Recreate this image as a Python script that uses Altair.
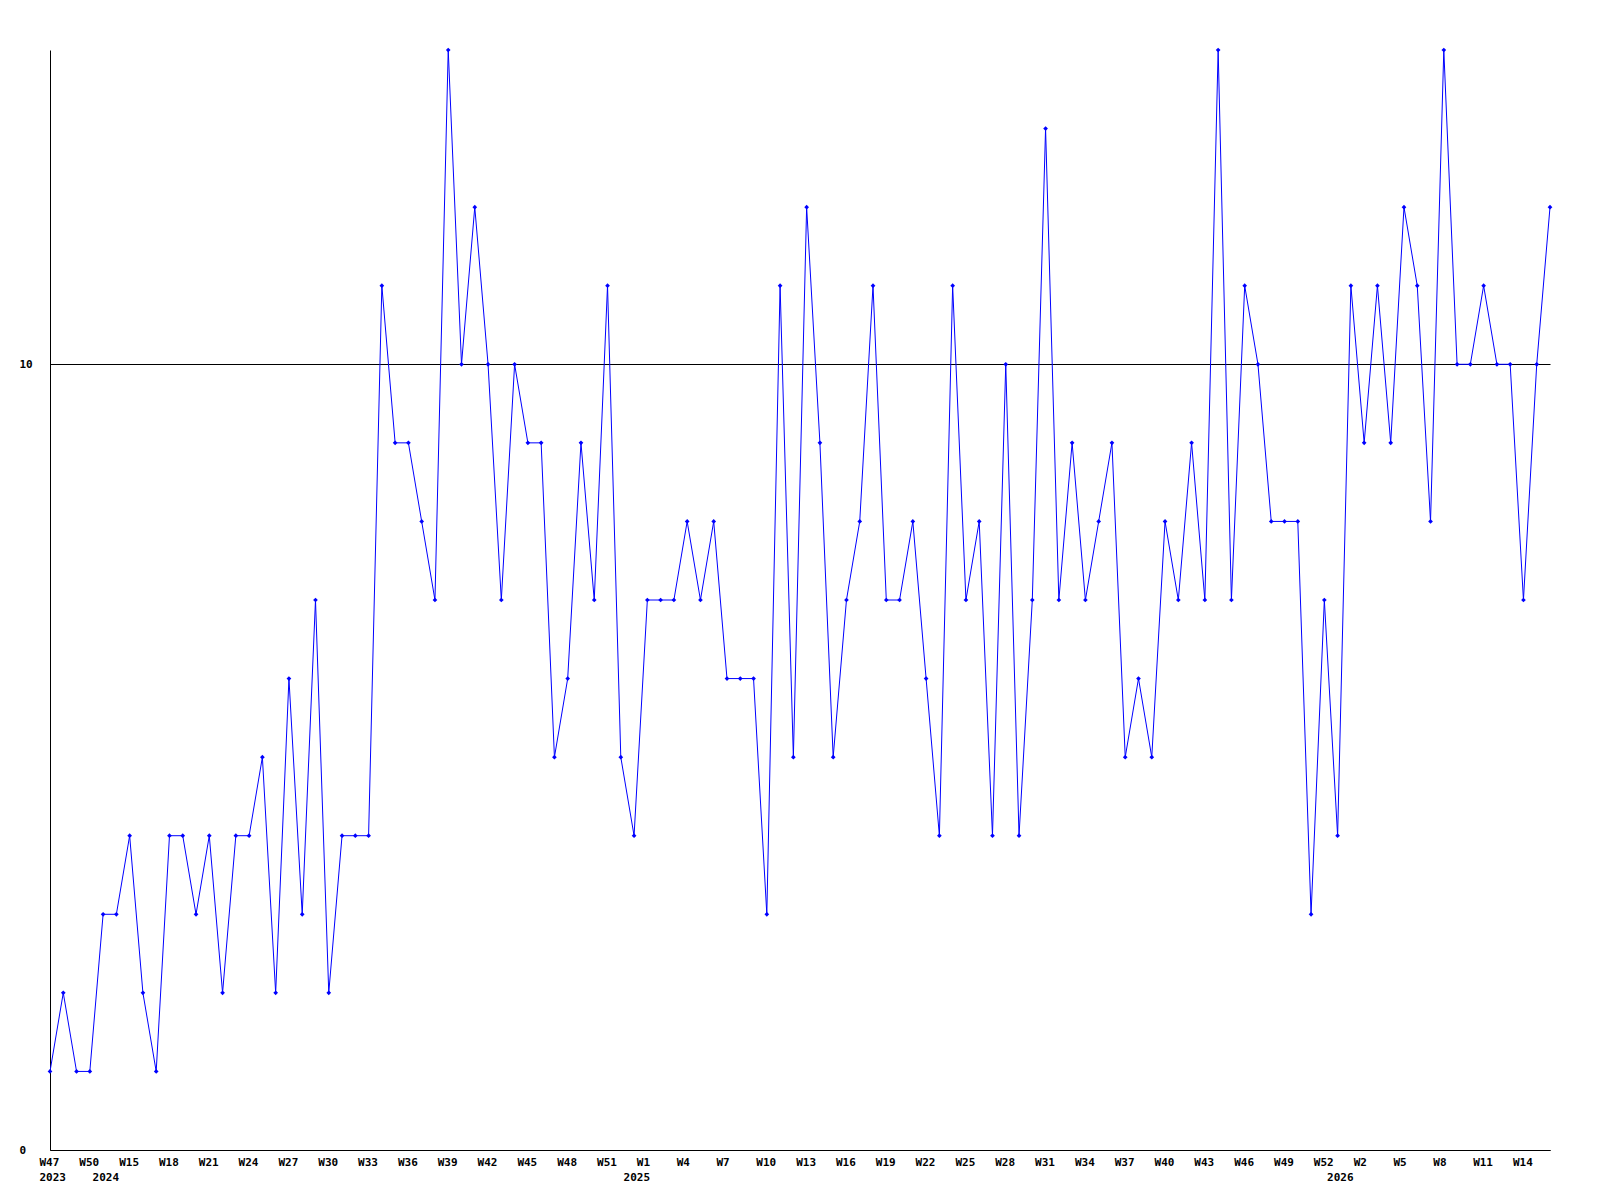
import altair as alt
import pandas as pd

# Week numbers per year segment (categories along the x axis)
weeks_2023 = [47, 48, 49, 50]
weeks_2024 = list(range(13, 53))
weeks_2025 = list(range(0, 53))
weeks_2026 = list(range(0, 17))

values = [
    1, 2, 1, 1, 3, 3, 4, 2, 1, 4,
    4, 3, 4, 2, 4, 4, 5, 2, 6, 3,
    7, 2, 4, 4, 4, 11, 9, 9, 8, 7,
    14, 10, 12, 10, 7, 10, 9, 9, 5, 6,
    9, 7, 11, 5, 4, 7, 7, 7, 8, 7,
    8, 6, 6, 6, 3, 11, 5, 12, 9, 5,
    7, 8, 11, 7, 7, 8, 6, 4, 11, 7,
    8, 4, 10, 4, 7, 13, 7, 9, 7, 8,
    9, 5, 6, 5, 8, 7, 9, 7, 14, 7,
    11, 10, 8, 8, 8, 3, 7, 4, 11, 9,
    11, 9, 12, 11, 8, 14, 10, 10, 11, 10,
    10, 7, 10, 12,
]

weeks = []
years = []
for yr, wk in ((2023, weeks_2023), (2024, weeks_2024), (2025, weeks_2025), (2026, weeks_2026)):
    for w in wk:
        weeks.append(f"W{w}")
        years.append(yr)

n = len(values)
df = pd.DataFrame({"idx": list(range(n)), "value": values, "week": weeks, "year": years})

# label text per index: week every 3rd point, year on second line at first point of each year
year_start = {0}
for i in range(1, n):
    if years[i] != years[i - 1]:
        year_start.add(i)
shown = set(range(0, n, 3))
tick_vals = sorted(shown | year_start)

def lab(i):
    w = weeks[i] if i in shown else ""
    y = str(years[i]) if i in year_start else ""
    return f"['{w}','{y}']"

label_expr = "[" + ",".join(lab(i) if i in tick_vals else "''" for i in range(n)) + "][datum.value]"

FONT = "DejaVu Sans Mono"

x = alt.X(
    "idx:Q",
    scale=alt.Scale(domain=[0, n - 1], nice=False, zero=False),
    axis=alt.Axis(
        values=tick_vals,
        labelExpr=label_expr,
        title=None,
        grid=False,
        ticks=False,
        domainColor="black",
        domainWidth=1,
        labelFont=FONT,
        labelFontWeight="bold",
        labelFontSize=11,
        labelColor="black",
        labelAlign="left",
        labelOffset=-11,
        labelPadding=6,
        labelLineHeight=15,
        labelOverlap=False,
        labelFlush=False,
        labelBound=False,
    ),
)
y = alt.Y(
    "value:Q",
    scale=alt.Scale(domain=[0, 14], nice=False),
    axis=alt.Axis(
        values=[0, 10],
        title=None,
        grid=True,
        gridColor="black",
        gridOpacity=1,
        gridWidth=1,
        ticks=False,
        domainColor="black",
        domainWidth=1,
        labelFont=FONT,
        labelFontWeight="bold",
        labelFontSize=11,
        labelColor="black",
        labelAlign="left",
        labelBaseline="middle",
        labelPadding=31,
    ),
)

base = alt.Chart(df)
line = base.mark_line(color="#0000ff", strokeWidth=1).encode(x=x, y=y)
pts = base.mark_point(shape="diamond", filled=True, size=22, color="#0000ff", opacity=1).encode(x=x, y=y)

chart = (
    alt.layer(line, pts)
    .properties(
        width=1500,
        height=1100,
        autosize=alt.AutoSizeParams(type="none"),
        padding={"left": 42, "top": 42, "right": 40, "bottom": 60},
        background="white",
    )
    .configure_view(stroke="transparent", strokeWidth=0)
)

chart.save("out.html", embed_options={"renderer": "svg", "actions": False})
